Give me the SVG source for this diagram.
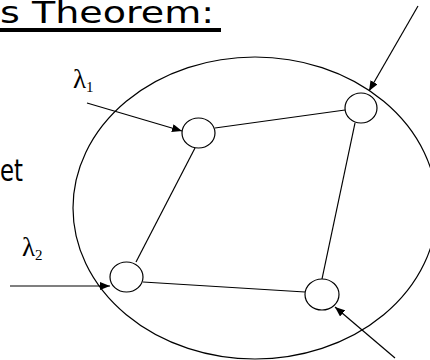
<svg xmlns="http://www.w3.org/2000/svg" width="430" height="360" viewBox="0 0 430 360">
<style>
.ln{stroke:#000;stroke-width:1.2;fill:none}
.nd{stroke:#000;stroke-width:1.2;fill:#fff}
.ttl{font-family:"DejaVu Sans",sans-serif;font-size:30px;fill:#000}
.lam{font-family:"Liberation Serif",serif;fill:#000}
</style>
<defs>
<marker id="ah" markerUnits="userSpaceOnUse" markerWidth="11" markerHeight="8" refX="10" refY="4" orient="auto">
<path d="M0,0 L10,4 L0,8 z" fill="#000"/>
</marker>
</defs>
<rect width="430" height="360" fill="#fff"/>
<g id="title">
<text class="ttl" x="0" y="23" textLength="214" lengthAdjust="spacingAndGlyphs">s Theorem:</text>
<rect x="0" y="28" width="221" height="4" fill="#000"/>
</g>
<g id="side-text">
<text class="ttl" x="0" y="181" textLength="23" lengthAdjust="spacingAndGlyphs">et</text>
</g>
<g id="network">
<ellipse class="ln" cx="255" cy="208" rx="182" ry="151"/>
</g>
<g id="connectors">
<line class="ln" x1="215" y1="128" x2="345" y2="110"/>
<line class="ln" x1="195" y1="148" x2="136" y2="262"/>
<line class="ln" x1="355" y1="123" x2="322" y2="279"/>
<line class="ln" x1="143" y1="282" x2="305" y2="292"/>
<line class="ln" x1="87" y1="103" x2="182" y2="131" marker-end="url(#ah)"/>
<line class="ln" x1="10" y1="286" x2="110" y2="286" marker-end="url(#ah)"/>
<line class="ln" x1="418" y1="6" x2="369" y2="91" marker-end="url(#ah)"/>
<line class="ln" x1="395" y1="358" x2="335" y2="307" marker-end="url(#ah)"/>
</g>
<g id="node1"><ellipse class="nd" cx="198.5" cy="133" rx="16.5" ry="15"/></g>
<g id="node2"><ellipse class="nd" cx="361" cy="108" rx="16" ry="15"/></g>
<g id="node3"><ellipse class="nd" cx="126.5" cy="277" rx="16.5" ry="15"/></g>
<g id="node4"><ellipse class="nd" cx="322" cy="294.5" rx="17" ry="15.5"/></g>
<g id="lambda1">
<text class="lam" x="73" y="88" font-size="27">λ<tspan font-size="15" y="92">1</tspan></text>
</g>
<g id="lambda2">
<text class="lam" x="22" y="256" font-size="27">λ<tspan font-size="15" y="260">2</tspan></text>
</g>
</svg>
